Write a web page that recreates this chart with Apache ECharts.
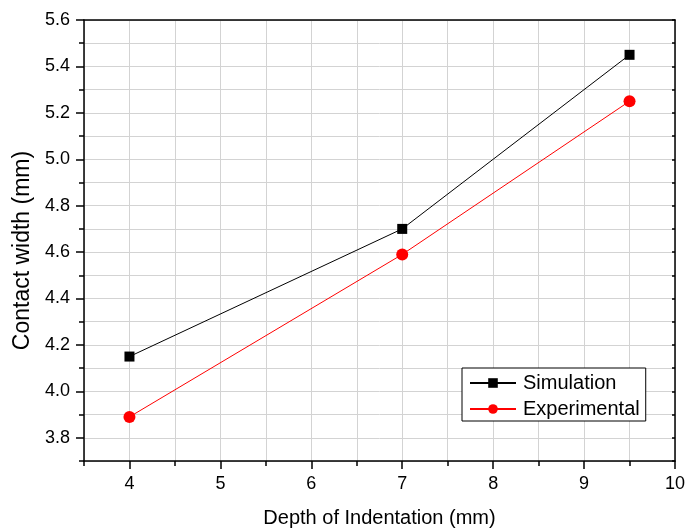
<!DOCTYPE html>
<html>
<head>
<meta charset="utf-8">
<script src="https://cdn.jsdelivr.net/npm/echarts@6/dist/echarts.min.js"></script>
<style>
  html, body { margin: 0; padding: 0; background: #fff; }
  #chart { width: 685px; height: 529px; }
</style>
</head>
<body>
<div id="chart"></div>
<script>
// data
const depth = [4, 7, 9.5]
const simulation = [4.15, 4.70, 5.45]
const experimental = [3.89, 4.59, 5.25]

// major tick values (labelled), minor ticks come from the axis interval
const xMajor = [4, 5, 6, 7, 8, 9, 10]
const yMajor = [3.8, 4.0, 4.2, 4.4, 4.6, 4.8, 5.0, 5.2, 5.4, 5.6]

const FONT = 'Liberation Sans, Arial, sans-serif'

const chart = echarts.init(document.getElementById('chart'))

const pairs = (xs, ys) => xs.map((x, i) => [x, ys[i]])

const X_MIN = 3.5, X_MAX = 10
const Y_MIN = 3.7, Y_MAX = 5.6

chart.setOption({
  animation: false,
  grid: { left: 84, right: 10, top: 20, bottom: 68, outerBoundsMode: 'none' },
  legend: {
    orient: 'vertical',
    left: 462,
    top: 368,
    itemWidth: 46,
    itemHeight: 12,
    itemGap: 6,
    padding: [5, 6, 2, 7],
    borderColor: '#000',
    borderWidth: 1,
    backgroundColor: '#fff',
    textStyle: { fontFamily: FONT, fontSize: 20, color: '#000', padding: [0, 0, 0, 2] },
    data: ['Simulation', 'Experimental']
  },
  xAxis: [
    {
      // minor ticks + grid every 0.5
      type: 'value',
      min: X_MIN,
      max: X_MAX,
      interval: 0.5,
      axisLine: { show: true, lineStyle: { color: '#000', width: 1.5 } },
      axisTick: { show: true, length: 5, lineStyle: { color: '#000', width: 1.5 } },
      axisLabel: { show: false },
      splitLine: { show: true, lineStyle: { color: '#d3d3d3', width: 1 } }
    },
    {
      // major ticks + labels
      type: 'value',
      position: 'bottom',
      min: X_MIN,
      max: X_MAX,
      name: 'Depth of Indentation (mm)',
      nameLocation: 'middle',
      nameGap: 47,
      nameTextStyle: { fontFamily: FONT, fontSize: 20, color: '#000' },
      axisLine: { show: false },
      axisTick: { show: true, length: 8, customValues: xMajor, lineStyle: { color: '#000', width: 1.5 } },
      axisLabel: { fontFamily: FONT, fontSize: 18, color: '#000', margin: 14, customValues: xMajor },
      splitLine: { show: false }
    },
    {
      type: 'value',
      position: 'top',
      min: X_MIN,
      max: X_MAX,
      axisLine: { show: true, lineStyle: { color: '#000', width: 1.5 } },
      axisTick: { show: false },
      axisLabel: { show: false },
      splitLine: { show: false }
    }
  ],
  yAxis: [
    {
      type: 'value',
      min: Y_MIN,
      max: Y_MAX,
      interval: 0.1,
      axisLine: { show: true, lineStyle: { color: '#000', width: 1.5 } },
      axisTick: { show: true, length: 5, lineStyle: { color: '#000', width: 1.5 } },
      axisLabel: { show: false },
      splitLine: { show: true, lineStyle: { color: '#d3d3d3', width: 1 } }
    },
    {
      type: 'value',
      position: 'left',
      min: Y_MIN,
      max: Y_MAX,
      name: 'Contact width (mm)',
      nameLocation: 'middle',
      nameGap: 50,
      // right padding nudges the rotated title a little lower, as in the reference
      nameTextStyle: { fontFamily: FONT, fontSize: 23, color: '#000', padding: [0, 20, 0, 0] },
      axisLine: { show: false },
      axisTick: { show: true, length: 8, customValues: yMajor, lineStyle: { color: '#000', width: 1.5 } },
      axisLabel: {
        fontFamily: FONT, fontSize: 18, color: '#000', margin: 14,
        customValues: yMajor,
        formatter: (v) => v.toFixed(1)
      },
      splitLine: { show: false }
    },
    {
      type: 'value',
      position: 'right',
      min: Y_MIN,
      max: Y_MAX,
      interval: 0.1,
      axisLine: { show: true, lineStyle: { color: '#000', width: 1.5 } },
      axisTick: { show: true, inside: true, length: 3, lineStyle: { color: '#000', width: 1.5 } },
      axisLabel: { show: false },
      splitLine: { show: false }
    }
  ],
  series: [
    {
      name: 'Simulation',
      type: 'line',
      data: pairs(depth, simulation),
      symbol: 'rect',
      symbolSize: 10,
      itemStyle: { color: '#000' },
      lineStyle: { color: '#000', width: 1 }
    },
    {
      name: 'Experimental',
      type: 'line',
      data: pairs(depth, experimental),
      symbol: 'circle',
      symbolSize: 12,
      itemStyle: { color: '#ff0000' },
      lineStyle: { color: '#ff0000', width: 1 }
    }
  ]
})
</script>
</body>
</html>
